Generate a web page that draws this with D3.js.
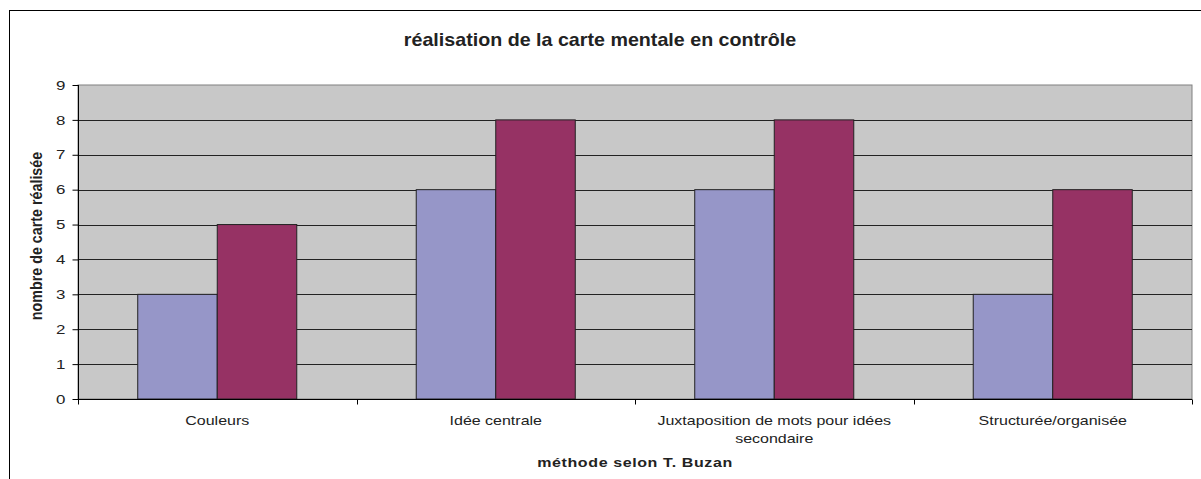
<!DOCTYPE html>
<html>
<head>
<meta charset="utf-8">
<script src="https://cdn.jsdelivr.net/npm/d3@7"></script>
<style>
  body { margin: 0; background: #fff; }
  text { font-family: "Liberation Sans", Arial, sans-serif; fill: #222; }
</style>
</head>
<body>
<script>
// data
var categories = ["Couleurs", "Idée centrale", "Juxtaposition de mots pour idées secondaire", "Structurée/organisée"];
var seriesNames = ["s1", "s2"];
var serie1 = [3, 6, 6, 3];
var serie2 = [5, 8, 8, 6];
var yTicks = [0, 1, 2, 3, 4, 5, 6, 7, 8, 9];
var colors = ["#9696c8", "#963264"];

var W = 1201, H = 479;
var plot = {left: 78, right: 1192, top: 85, bottom: 399};
var sx = 1.23; // the source picture is stretched sideways, text too

var svg = d3.select("body").append("svg")
    .attr("width", W)
    .attr("height", H);

// outer chart frame (bottom and right run off the picture)
svg.append("rect")
   .attr("x", 9.5).attr("y", 10.5)
   .attr("width", 1200).attr("height", 480)
   .attr("fill", "#fff")
   .attr("stroke", "#000");

var x0 = d3.scaleBand().domain(categories).range([plot.left, plot.right]);
var groupW = x0.bandwidth() * 0.571;
var x1 = d3.scaleBand().domain(seriesNames)
    .range([(x0.bandwidth() - groupW) / 2, (x0.bandwidth() + groupW) / 2]);
var y = d3.scaleLinear().domain([0, 9]).range([plot.bottom, plot.top]);

// plot background
svg.append("rect")
   .attr("x", plot.left).attr("y", plot.top)
   .attr("width", plot.right - plot.left)
   .attr("height", plot.bottom - plot.top)
   .attr("fill", "#c8c8c8")
   .attr("stroke", "#808080");

// gridlines
svg.append("g")
   .selectAll("line")
   .data(yTicks.filter(d => d > 0 && d < 9))
   .enter().append("line")
   .attr("x1", plot.left).attr("x2", plot.right)
   .attr("y1", d => Math.round(y(d)) + 0.5)
   .attr("y2", d => Math.round(y(d)) + 0.5)
   .attr("stroke", "#222");

// bars
var data = categories.map((c, i) => ({cat: c, values: [
  {name: "s1", v: serie1[i]},
  {name: "s2", v: serie2[i]}
]}));

var groups = svg.selectAll(".grp")
    .data(data)
    .enter().append("g")
    .attr("class", "grp")
    .attr("transform", d => "translate(" + x0(d.cat) + ",0)");

groups.selectAll("rect")
      .data(d => d.values)
      .enter().append("rect")
      .attr("x", d => x1(d.name))
      .attr("width", x1.bandwidth())
      .attr("y", d => y(d.v))
      .attr("height", d => y(0) - y(d.v))
      .attr("fill", (d, i) => colors[i])
      .attr("stroke", "#222")
      .attr("stroke-width", 1);

// y axis
var yAxis = d3.axisLeft(y).tickValues(yTicks).tickSize(6).tickPadding(5);
var gy = svg.append("g")
   .attr("transform", "translate(" + (plot.left + 0.5) + ",0)")
   .call(yAxis);
gy.select(".domain").attr("stroke", "#000").attr("d", "M0," + plot.top + "V" + plot.bottom);
gy.selectAll(".tick line").attr("stroke", "#000");
gy.selectAll("text")
  .style("font-size", "13px")
  .attr("fill", "#222")
  .attr("x", null)
  .attr("transform", "translate(-13,0) scale(" + 1.3 + ",1)");

// x axis
var gx = svg.append("g")
   .attr("transform", "translate(0," + (plot.bottom + 0.5) + ")");
gx.append("line")
  .attr("x1", plot.left).attr("x2", plot.right)
  .attr("stroke", "#000");
gx.selectAll(".xt")
  .data(categories.map(c => x0(c)).concat([plot.right]))
  .enter().append("line")
  .attr("x1", d => Math.round(d) + 0.5).attr("x2", d => Math.round(d) + 0.5)
  .attr("y1", 0).attr("y2", 5)
  .attr("stroke", "#000");

var xLabelLines = {
  "Juxtaposition de mots pour idées secondaire": ["Juxtaposition de mots pour idées", "secondaire"]
};
var xl = svg.selectAll(".xl")
   .data(categories)
   .enter().append("text")
   .attr("class", "xl")
   .attr("text-anchor", "middle")
   .style("font-size", "13px")
   .attr("transform", d => "translate(" + (x0(d) + x0.bandwidth() / 2) + ",425) scale(" + sx + ",1)");
xl.each(function(d) {
  var lines = xLabelLines[d] || [d];
  var t = d3.select(this);
  lines.forEach((l, i) => {
    t.append("tspan")
     .attr("x", 0)
     .attr("dy", i === 0 ? 0 : 18)
     .text(l);
  });
});

// titles
svg.append("text")
   .attr("transform", "translate(600,46) scale(" + sx + ",1.1)")
   .attr("text-anchor", "middle")
   .style("font-size", "16px")
   .style("font-weight", "bold")
   .text("réalisation de la carte mentale en contrôle");

svg.append("text")
   .attr("transform", "translate(" + (plot.left + plot.right) / 2 + ",467) scale(" + sx + ",1)")
   .attr("text-anchor", "middle")
   .style("font-size", "13px")
   .style("font-weight", "bold")
   .style("letter-spacing", "0.5px")
   .text("méthode selon T. Buzan");

svg.append("text")
   .attr("transform", "translate(42,236) rotate(-90) scale(1.1," + sx + ")")
   .attr("text-anchor", "middle")
   .style("font-size", "13px")
   .style("font-weight", "bold")
   .text("nombre de carte réalisée");
</script>
</body>
</html>
